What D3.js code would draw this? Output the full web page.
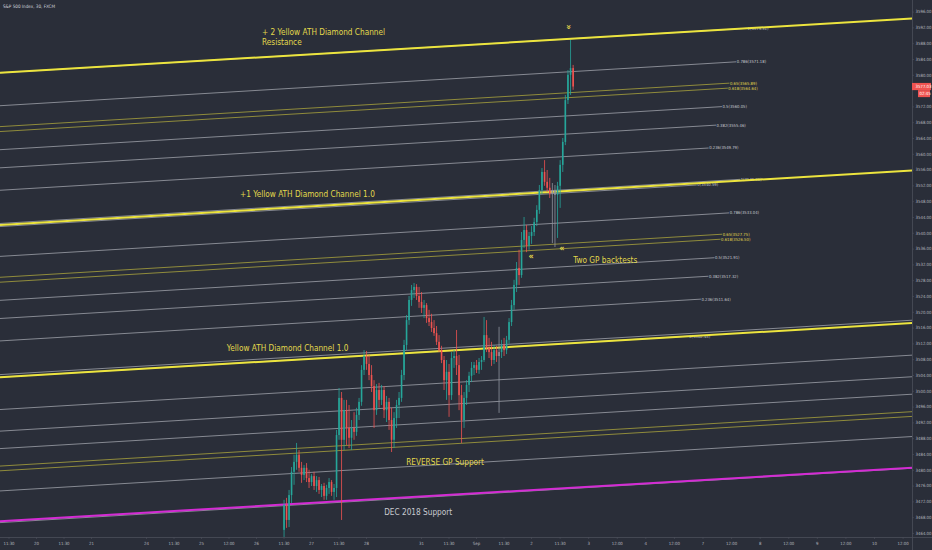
<!DOCTYPE html>
<html>
<head>
<meta charset="utf-8">
<script src="https://cdnjs.cloudflare.com/ajax/libs/d3/7.8.5/d3.min.js"></script>
<style>
  html, body { margin: 0; padding: 0; background: #2a2e39; overflow: hidden; }
  #chart { width: 932px; height: 550px; }
  text { font-family: "DejaVu Sans Condensed", "DejaVu Sans", sans-serif; }
</style>
</head>
<body>
<div id="chart"></div>
<script>
// S&P 500 Index, 30, FXCM
// time is in trading days, 0 = Aug 20 open
const firstBarDay = 4.51;
const barStep = 1 / 22;

// [open, high, low, close]
const ohlc = [
  [3464.8, 3472.4, 3462.2, 3471.1], [3471.1, 3472.9, 3465.3, 3467.3], [3467.3, 3474.9, 3465.5, 3473.6],
  [3473.6, 3480.7, 3471.6, 3479.5], [3479.5, 3483.8, 3476.2, 3482.0], [3482.0, 3486.8, 3480.0, 3483.8],
  [3483.8, 3485.0, 3479.5, 3480.5], [3480.5, 3482.0, 3476.7, 3478.7], [3478.7, 3481.2, 3477.4, 3480.5],
  [3480.5, 3481.7, 3476.9, 3477.9], [3477.9, 3480.0, 3475.4, 3476.9], [3476.9, 3478.9, 3475.9, 3478.4],
  [3478.4, 3479.5, 3474.9, 3475.9], [3475.9, 3478.4, 3474.4, 3477.4], [3477.4, 3478.2, 3473.9, 3474.9],
  [3474.9, 3476.4, 3473.1, 3475.9], [3475.9, 3476.7, 3472.4, 3473.4], [3473.4, 3476.2, 3472.4, 3475.4],
  [3475.4, 3477.9, 3473.9, 3476.9], [3476.9, 3477.4, 3473.4, 3474.4], [3474.4, 3476.4, 3472.4, 3475.4],
  [3475.4, 3490.1, 3473.1, 3488.8], [3488.8, 3500.7, 3487.6, 3498.2], [3498.2, 3499.7, 3467.3, 3487.6],
  [3487.6, 3497.7, 3485.0, 3495.1], [3495.1, 3497.7, 3486.3, 3490.6], [3490.6, 3496.4, 3485.5, 3488.1],
  [3488.1, 3492.6, 3485.0, 3490.6], [3490.6, 3494.6, 3487.6, 3489.6], [3489.6, 3495.7, 3488.6, 3493.9],
  [3493.9, 3498.2, 3492.6, 3497.2], [3497.2, 3506.5, 3496.2, 3505.3], [3505.3, 3510.3, 3504.0, 3508.8],
  [3508.8, 3510.1, 3505.3, 3506.8], [3506.8, 3509.1, 3502.7, 3504.0], [3504.0, 3506.5, 3499.7, 3501.2],
  [3501.2, 3502.7, 3490.6, 3495.1], [3495.1, 3501.7, 3493.9, 3500.2], [3500.2, 3502.0, 3495.7, 3497.7],
  [3497.7, 3501.5, 3496.4, 3500.2], [3500.2, 3501.2, 3493.1, 3495.1], [3495.1, 3498.7, 3492.1, 3497.2],
  [3497.2, 3498.2, 3490.1, 3492.6], [3492.6, 3495.7, 3484.5, 3487.6], [3487.6, 3494.6, 3485.5, 3493.1],
  [3493.1, 3497.7, 3490.6, 3496.4], [3496.4, 3499.7, 3493.1, 3498.2], [3498.2, 3505.3, 3497.2, 3504.0],
  [3504.0, 3512.9, 3502.7, 3511.6], [3511.6, 3519.2, 3510.3, 3517.9], [3517.9, 3524.0, 3516.7, 3523.0],
  [3523.0, 3526.8, 3521.5, 3525.5], [3525.5, 3527.3, 3523.5, 3526.3], [3526.3, 3527.0, 3523.0, 3524.0],
  [3524.0, 3526.3, 3521.0, 3522.5], [3522.5, 3525.0, 3519.7, 3521.0], [3521.0, 3523.0, 3518.4, 3521.7],
  [3521.7, 3522.2, 3517.2, 3518.4], [3518.4, 3520.5, 3516.4, 3517.4], [3517.4, 3519.5, 3514.9, 3515.9],
  [3515.9, 3517.9, 3513.9, 3514.6], [3514.6, 3516.4, 3511.6, 3512.4], [3512.4, 3514.1, 3509.8, 3510.3],
  [3510.3, 3511.4, 3507.0, 3507.8], [3507.8, 3508.8, 3500.2, 3502.7], [3502.7, 3507.8, 3497.7, 3504.8],
  [3504.8, 3506.8, 3493.4, 3498.9], [3498.9, 3509.8, 3497.7, 3508.3], [3508.3, 3510.3, 3505.8, 3508.8],
  [3508.8, 3515.4, 3504.0, 3506.5], [3506.5, 3509.1, 3495.1, 3498.9], [3498.9, 3501.5, 3486.8, 3492.6],
  [3492.6, 3499.7, 3490.6, 3498.2], [3498.2, 3502.7, 3496.4, 3501.5], [3501.5, 3504.8, 3499.7, 3503.8],
  [3503.8, 3507.3, 3502.2, 3505.8], [3505.8, 3507.3, 3504.0, 3506.5], [3506.5, 3507.8, 3504.5, 3505.3],
  [3505.3, 3508.3, 3504.3, 3507.3], [3507.3, 3508.8, 3505.3, 3507.8], [3507.8, 3518.7, 3507.3, 3514.1],
  [3514.1, 3517.9, 3509.8, 3510.8], [3510.8, 3513.4, 3508.3, 3509.8], [3509.8, 3512.4, 3506.3, 3507.8],
  [3507.8, 3511.6, 3506.8, 3510.3], [3510.3, 3511.4, 3507.3, 3508.8], [3508.8, 3516.2, 3494.4, 3509.8],
  [3509.8, 3512.9, 3508.3, 3511.6], [3511.6, 3513.4, 3508.8, 3510.3], [3510.3, 3513.9, 3509.3, 3512.9],
  [3512.9, 3518.4, 3511.9, 3517.4], [3517.4, 3523.0, 3516.4, 3521.7], [3521.7, 3528.1, 3520.5, 3526.8],
  [3526.8, 3532.6, 3525.0, 3531.1], [3531.1, 3535.7, 3526.8, 3529.3], [3529.3, 3540.2, 3528.6, 3538.2],
  [3538.2, 3544.0, 3536.2, 3540.7], [3540.7, 3542.0, 3535.1, 3536.7], [3536.7, 3540.2, 3535.7, 3539.2],
  [3539.2, 3541.7, 3537.2, 3540.2], [3540.2, 3543.8, 3539.2, 3542.7], [3542.7, 3547.0, 3541.7, 3545.8],
  [3545.8, 3552.1, 3544.8, 3550.8], [3550.8, 3556.4, 3549.8, 3555.4], [3555.4, 3558.4, 3551.9, 3552.9],
  [3552.9, 3555.9, 3550.3, 3551.4], [3551.4, 3553.9, 3548.8, 3549.8], [3549.8, 3552.6, 3537.4, 3550.8],
  [3550.8, 3552.1, 3536.4, 3549.6], [3549.6, 3552.9, 3538.7, 3551.9], [3551.9, 3558.4, 3546.3, 3557.2],
  [3557.2, 3564.0, 3555.4, 3563.0], [3563.0, 3574.9, 3562.2, 3573.6], [3573.6, 3581.2, 3572.6, 3580.0],
  [3580.0, 3588.8, 3574.9, 3581.7], [3581.7, 3582.5, 3576.2, 3577.03]
];
const grayBars = [86, 107, 108];

const lastPrice = 3577.03;
const countdown = "02:45";

// 3576 sits under the last-price tag, so it is not printed
const priceTicks = [3464, 3468, 3472, 3476, 3480, 3484, 3488, 3492, 3496, 3500, 3504, 3508,
  3512, 3516, 3520, 3524, 3528, 3532, 3536, 3540, 3544, 3548, 3552, 3556, 3560, 3564,
  3568, 3572, 3580, 3584, 3588, 3592, 3596];

const timeTicks = [
  { day: -0.5, label: "11:30" }, { day: 0, label: "20" }, { day: 0.5, label: "11:30" }, { day: 1, label: "21" },
  { day: 2, label: "24" }, { day: 2.5, label: "11:30" }, { day: 3, label: "25" }, { day: 3.5, label: "12:00" },
  { day: 4, label: "26" }, { day: 4.5, label: "11:30" }, { day: 5, label: "27" }, { day: 5.5, label: "11:30" },
  { day: 6, label: "28" }, { day: 7, label: "31" }, { day: 7.5, label: "11:30" }, { day: 8, label: "Sep" },
  { day: 8.5, label: "11:30" }, { day: 9, label: "2" }, { day: 9.5, label: "11:30" }, { day: 10, label: "3" },
  { day: 10.5, label: "12:00" }, { day: 11, label: "4" }, { day: 11.5, label: "12:00" }, { day: 12, label: "7" },
  { day: 12.5, label: "12:00" }, { day: 13, label: "8" }, { day: 13.5, label: "12:00" }, { day: 14, label: "9" },
  { day: 14.5, label: "12:00" }, { day: 15, label: "10" }, { day: 15.5, label: "12:00" }
];

// every channel line gains this much price across the visible window
const channelRise = 13.77;

const fibLevels = [1, 0.786, 0.65, 0.618, 0.5, 0.382, 0.236, 0];
const goldenLevels = [0.65, 0.618];

// bottomLeft = price of level 0 at the left edge; endDay0/endDay1 = where levels 0 and 1 stop
const fibChannels = [
  { bottomLeft: 3541.58, width: 38.92, endDay0: 11.90, endDay1: 12.78,
    values: [3579.51, 3571.18, 3565.89, 3564.64, 3560.05, 3555.46, 3549.79, 3540.59] },
  { bottomLeft: 3503.44, width: 38.92, endDay0: 11.76, endDay1: 12.66,
    values: [3541.36, 3533.04, 3527.75, 3526.50, 3521.91, 3517.32, 3511.64, 3502.45] }
];

// reverse channel, measured down from its top, runs across the whole window
const reverseTopLeft = 3504.1;
const reverseWidth = 37.47;

const trendLines = [
  { left: 3580.5, rise: 13.77, kind: "yellow" },
  { left: 3542.0, rise: 13.77, kind: "yellow" },
  { left: 3503.4, rise: 13.77, kind: "yellow" },
  { left: 3467.0, rise: 13.5, kind: "magenta" }
];

const notes = [
  { day: 4.11, price: 3590.1, lines: ["+ 2 Yellow ATH Diamond Channel", "Resistance"], kind: "yellow" },
  { day: 3.71, price: 3549.1, lines: ["+1 Yellow ATH Diamond Channel 1.0"], kind: "yellow" },
  { day: 3.47, price: 3510.1, lines: ["Yellow ATH Diamond Channel 1.0"], kind: "yellow" },
  { day: 9.74, price: 3532.4, lines: ["Two GP backtests"], kind: "yellow" },
  { day: 6.73, price: 3481.2, lines: ["REVERSE GP Support"], kind: "yellow" },
  { day: 6.33, price: 3468.6, lines: ["DEC 2018 Support"], kind: "white" }
];

const chevrons = [
  { day: 9.665, price: 3592.1, dir: "down" },
  { day: 9.0, price: 3534.1, dir: "left" },
  { day: 9.54, price: 3536.2, dir: "left" }
];

const colors = {
  up: "#26a69a", down: "#ef5350", flat: "#8f939e",
  yellow: "#ece43e", magenta: "#d42bd4", white: "#c8cad0",
  level: "#9ea1aa", golden: "#aaa33c", note: "#e3d94c",
  axis: "#4b4f5b", axisText: "#b2b5be"
};

// ---------------------------------------------------------------
const W = 932, H = 550;
const plotW = 912, plotH = 537;

const svg = d3.select("#chart").append("svg")
  .attr("width", W)
  .attr("height", H);

// trading-day index -> px (future days are spaced a little wider)
const x = d3.scaleLinear()
  .domain([0, 9, 15])
  .range([36, 531, 874]);

const y = d3.scaleLinear()
  .domain([3464, 3596])
  .range([533, 11.6]);

const dayL = x.invert(0), dayR = x.invert(plotW);

// price on a straight (in screen space) line at a given day
function priceAt(left, rise, day) {
  const t = (x(day) - x(dayL)) / (x(dayR) - x(dayL));
  return left + rise * t;
}

const seg = d3.line().x(d => x(d[0])).y(d => y(d[1]));

svg.append("defs").append("clipPath").attr("id", "plot")
  .append("rect").attr("width", plotW).attr("height", plotH);

const plot = svg.append("g").attr("clip-path", "url(#plot)");

// FIB CHANNELS
fibChannels.forEach(ch => {
  fibLevels.forEach((r, i) => {
    const left = ch.bottomLeft + r * ch.width;
    const endDay = ch.endDay0 + r * (ch.endDay1 - ch.endDay0);
    const endPrice = priceAt(left, channelRise, endDay);
    const golden = goldenLevels.includes(r);
    plot.append("path")
      .attr("d", seg([[dayL, left], [endDay, endPrice]]))
      .attr("fill", "none")
      .attr("stroke", golden ? colors.golden : colors.level)
      .attr("stroke-width", 0.8);
    plot.append("text")
      .attr("x", x(endDay) + 0.5)
      .attr("y", y(endPrice))
      .attr("dy", "0.35em")
      .attr("font-size", 4.2)
      .attr("fill", golden ? colors.note : colors.white)
      .text(r + "(" + ch.values[i].toFixed(2) + ")");
  });
});

// REVERSE CHANNEL
[0, 0.236, 0.382, 0.5, 0.618, 0.65, 0.786, 1].forEach(r => {
  const left = reverseTopLeft - r * reverseWidth;
  plot.append("path")
    .attr("d", seg([[dayL, left], [dayR, left + channelRise]]))
    .attr("fill", "none")
    .attr("stroke", goldenLevels.includes(r) ? colors.golden : colors.level)
    .attr("stroke-width", 0.8);
});

// TREND LINES
trendLines.forEach(t => {
  plot.append("path")
    .attr("d", seg([[dayL, t.left], [dayR, t.left + t.rise]]))
    .attr("fill", "none")
    .attr("stroke", colors[t.kind])
    .attr("stroke-width", 2);
});

// CANDLES
const bars = ohlc.map((d, i) => ({
  day: firstBarDay + i * barStep, o: d[0], h: d[1], l: d[2], c: d[3], gray: grayBars.includes(i)
}));
const barColor = d => d.gray ? colors.flat : (d.c >= d.o ? colors.up : colors.down);

const candles = plot.append("g").selectAll("g").data(bars).enter().append("g");
candles.append("line")
  .attr("x1", d => x(d.day)).attr("x2", d => x(d.day))
  .attr("y1", d => y(d.h)).attr("y2", d => y(d.l))
  .attr("stroke", barColor)
  .attr("stroke-width", 0.8);
candles.append("rect")
  .attr("x", d => x(d.day) - 0.8)
  .attr("width", 1.6)
  .attr("y", d => y(Math.max(d.o, d.c)))
  .attr("height", d => Math.max(0.8, Math.abs(y(d.o) - y(d.c))))
  .attr("fill", barColor);

// NOTES
notes.forEach(n => {
  const t = plot.append("text")
    .attr("x", x(n.day))
    .attr("y", y(n.price))
    .attr("font-size", 8.2)
    .attr("fill", n.kind === "white" ? colors.white : colors.note);
  n.lines.forEach((s, i) => {
    t.append("tspan").attr("x", x(n.day)).attr("dy", i ? 10 : 0).text(s);
  });
});

chevrons.forEach(c => {
  plot.append("text")
    .attr("transform", "translate(" + x(c.day) + "," + y(c.price) + ")" + (c.dir === "down" ? " rotate(90)" : ""))
    .attr("text-anchor", "middle")
    .attr("dy", "0.35em")
    .attr("font-size", 9)
    .attr("font-weight", "bold")
    .attr("fill", colors.note)
    .text(c.dir === "down" ? "\u00bb" : "\u00ab");
});

// TITLE
svg.append("text")
  .attr("x", 3).attr("y", 8)
  .attr("font-size", 4.6)
  .attr("fill", "#d1d4dc")
  .text("S&P 500 Index, 30, FXCM");

// AXES
const yAxis = svg.append("g")
  .attr("transform", "translate(" + plotW + ",0)")
  .call(d3.axisRight(y).tickValues(priceTicks).tickFormat(d3.format(".2f")).tickSize(2).tickPadding(1.5));

const xAxis = svg.append("g")
  .attr("transform", "translate(0," + plotH + ")")
  .call(d3.axisBottom(x).tickValues(timeTicks.map(t => t.day))
    .tickFormat((d, i) => timeTicks[i].label).tickSize(2).tickPadding(3));

[yAxis, xAxis].forEach(a => {
  a.select(".domain").remove();
  a.selectAll("line").attr("stroke", colors.axis).attr("stroke-width", 0.6);
  a.selectAll("text").attr("font-size", 4.3).attr("fill", colors.axisText)
    .style("font-family", '"DejaVu Sans Condensed", sans-serif');
});

svg.append("line")
  .attr("x1", 0).attr("x2", W).attr("y1", plotH + 0.5).attr("y2", plotH + 0.5)
  .attr("stroke", colors.axis).attr("stroke-width", 0.8);
svg.append("line")
  .attr("x1", plotW + 0.5).attr("x2", plotW + 0.5).attr("y1", 0).attr("y2", H)
  .attr("stroke", colors.axis).attr("stroke-width", 0.8);

// LAST PRICE LABEL
const ly = y(lastPrice);
svg.append("rect").attr("x", plotW).attr("y", ly - 3.6).attr("width", 19).attr("height", 7.2)
  .attr("fill", colors.down);
svg.append("rect").attr("x", plotW + 6).attr("y", ly + 3.6).attr("width", 12).attr("height", 7)
  .attr("fill", colors.down);
svg.append("text").attr("x", plotW + 3.5).attr("y", ly).attr("dy", "0.35em")
  .attr("font-size", 4.3).attr("fill", "#fff").text(lastPrice.toFixed(2));
svg.append("text").attr("x", plotW + 7.5).attr("y", ly + 7.1).attr("dy", "0.35em")
  .attr("font-size", 4.3).attr("fill", "#fff").text(countdown);
</script>
</body>
</html>
